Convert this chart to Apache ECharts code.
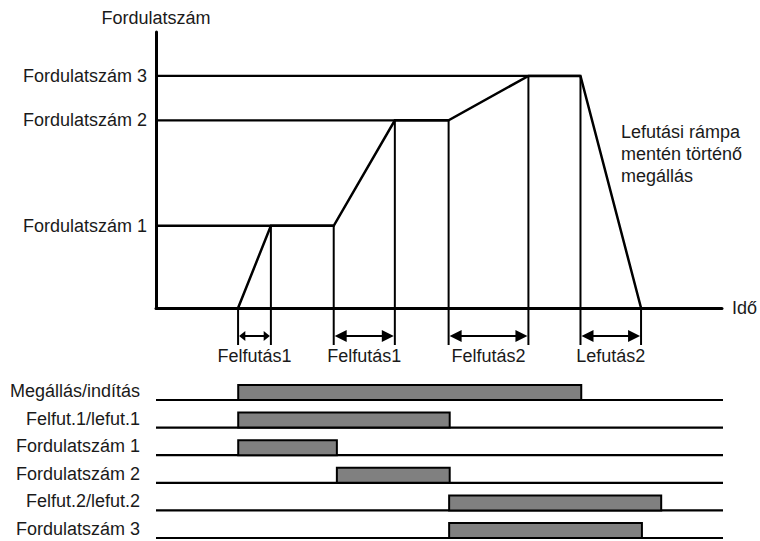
<!DOCTYPE html>
<html><head><meta charset="utf-8">
<script src="https://cdn.jsdelivr.net/npm/echarts@6/dist/echarts.min.js"></script>
<style>html,body{margin:0;padding:0;background:#fff}#c{width:760px;height:541px}</style>
</head><body><div id="c"></div>
<script>
// ---- data ----
const speedNames = ['Fordulatszám 1', 'Fordulatszám 2', 'Fordulatszám 3'];
const speedLevels = [29.8, 68.0, 84.1];
const levelEnds = [31.4, 51.7, 75.0];
const profileTime = [14.5, 20.3, 31.4, 42.2, 51.7, 65.8, 75.0, 85.7];
const profileSpeed = [0, 29.8, 29.8, 68.0, 68.0, 84.1, 84.1, 0];
const rampNames = ['Felfutás1', 'Felfutás1', 'Felfutás2', 'Lefutás2'];
const rampStart = [14.5, 31.4, 51.7, 75.0];
const rampEnd = [20.3, 42.2, 65.8, 85.7];
const signalNames = ['Megállás/indítás', 'Felfut.1/lefut.1', 'Fordulatszám 1', 'Fordulatszám 2', 'Felfut.2/lefut.2', 'Fordulatszám 3'];
const signalStart = [14.5, 14.5, 14.5, 31.9, 51.7, 51.7];
const signalEnd = [75.0, 51.8, 31.9, 51.8, 89.1, 85.7];
const noteLines = ['Lefutási rámpa', 'mentén történő', 'megállás'];
const timeMin = 0, timeMax = 100, speedMin = 0, speedMax = 100;

// ---- chart ----
const FONT = 'Liberation Sans, Arial, sans-serif';
const FS = 18;
const TXT = '#1a1a1a';
const rampMid = rampStart.map((s, i) => (s + rampEnd[i]) / 2);
const nearest = (arr, v) => { let bi = 0; arr.forEach((a, i) => { if (Math.abs(a - v) < Math.abs(arr[bi] - v)) bi = i; }); return bi; };
const rowIdx = signalNames.map((_, i) => i + 1);

const chart = echarts.init(document.getElementById('c'), null, { renderer: 'svg' });
chart.setOption({
  animation: false,
  backgroundColor: '#fff',
  textStyle: { fontFamily: FONT },
  grid: [
    { left: 156, right: 37, top: 32, bottom: 233 },
    { left: 156, right: 37, top: 372.4, bottom: 3 }
  ],
  xAxis: [
    {
      gridIndex: 0, type: 'value', min: timeMin, max: timeMax,
      axisLine: { show: true, onZero: false, lineStyle: { color: '#000', width: 3 } },
      axisTick: { show: false }, splitLine: { show: false },
      axisLabel: { customValues: rampMid, margin: 39, color: TXT, fontSize: FS, fontFamily: FONT,
        formatter: v => rampNames[nearest(rampMid, v)] },
      name: 'Idő', nameLocation: 'end', nameGap: 10,
      nameTextStyle: { color: TXT, fontSize: FS, fontFamily: FONT }
    },
    {
      gridIndex: 1, type: 'value', min: timeMin, max: timeMax, show: false
    }
  ],
  yAxis: [
    {
      gridIndex: 0, type: 'value', min: speedMin, max: speedMax,
      axisLine: { show: true, onZero: false, lineStyle: { color: '#000', width: 3 } },
      axisTick: { show: false }, splitLine: { show: false },
      axisLabel: { customValues: speedLevels, margin: 9, color: TXT, fontSize: FS, fontFamily: FONT,
        formatter: v => speedNames[nearest(speedLevels, v)] },
      name: 'Fordulatszám', nameLocation: 'end', nameGap: 5,
      nameTextStyle: { color: TXT, fontSize: FS, fontFamily: FONT, align: 'center' }
    },
    {
      gridIndex: 1, type: 'value', min: 0, max: signalNames.length, inverse: true,
      axisLine: { show: false }, axisTick: { show: false }, splitLine: { show: false },
      axisLabel: { customValues: rowIdx, margin: 16, color: TXT, fontSize: FS, fontFamily: FONT,
        verticalAlign: 'bottom', formatter: v => signalNames[Math.round(v) - 1] || '' }
    }
  ],
  graphic: [{
    type: 'text', left: 621, top: 121,
    style: { text: noteLines.join('\n'), fill: TXT, font: FS + 'px ' + FONT, lineHeight: 22 }
  }],
  series: [
    { // horizontal level lines
      type: 'custom', xAxisIndex: 0, yAxisIndex: 0, clip: false,
      data: speedLevels.map((s, i) => [levelEnds[i], s]),
      renderItem: (p, api) => {
        const a = api.coord([timeMin, api.value(1)]);
        const b = api.coord([api.value(0), api.value(1)]);
        return { type: 'line', shape: { x1: a[0], y1: a[1], x2: b[0], y2: b[1] }, style: { stroke: '#000', lineWidth: 2.3 } };
      }
    },
    { // vertical drop lines
      type: 'custom', xAxisIndex: 0, yAxisIndex: 0, clip: false,
      data: profileTime.map((t, i) => [t, profileSpeed[i]]),
      renderItem: (p, api) => {
        const a = api.coord([api.value(0), api.value(1)]);
        const b = api.coord([api.value(0), speedMin]);
        return { type: 'line', shape: { x1: a[0], y1: a[1], x2: b[0], y2: b[1] + 37 }, style: { stroke: '#000', lineWidth: 2 } };
      }
    },
    { // ramp arrows
      type: 'custom', xAxisIndex: 0, yAxisIndex: 0, clip: false,
      data: rampStart.map((s, i) => [s, rampEnd[i]]),
      renderItem: (p, api) => {
        const a = api.coord([api.value(0), speedMin]);
        const b = api.coord([api.value(1), speedMin]);
        const y = a[1] + 28;
        const span = b[0] - a[0];
        const hl = Math.min(13, span * 0.22);
        const hh = span < 40 ? 5 : 6;
        return { type: 'group', children: [
          { type: 'line', shape: { x1: a[0] + hl - 1, y1: y, x2: b[0] - hl + 1, y2: y }, style: { stroke: '#000', lineWidth: 2 } },
          { type: 'polygon', shape: { points: [[a[0] + 1, y], [a[0] + hl, y - hh], [a[0] + hl, y + hh]] }, style: { fill: '#000' } },
          { type: 'polygon', shape: { points: [[b[0] - 1, y], [b[0] - hl, y - hh], [b[0] - hl, y + hh]] }, style: { fill: '#000' } }
        ] };
      }
    },
    { // speed profile
      type: 'line', xAxisIndex: 0, yAxisIndex: 0, symbol: 'none', z: 5,
      data: profileTime.map((t, i) => [t, profileSpeed[i]]),
      lineStyle: { color: '#000', width: 2.5, join: 'miter' }
    },
    { // signal baselines
      type: 'custom', xAxisIndex: 1, yAxisIndex: 1, clip: false,
      data: rowIdx.map(r => [r]),
      renderItem: (p, api) => {
        const a = api.coord([timeMin, api.value(0)]);
        const b = api.coord([timeMax, api.value(0)]);
        return { type: 'line', shape: { x1: a[0], y1: a[1], x2: b[0], y2: b[1] }, style: { stroke: '#000', lineWidth: 2.2 } };
      }
    },
    { // signal bars
      type: 'custom', xAxisIndex: 1, yAxisIndex: 1, clip: false, z: 3,
      data: signalStart.map((s, i) => [i + 1, s, signalEnd[i]]),
      renderItem: (p, api) => {
        const a = api.coord([api.value(1), api.value(0)]);
        const b = api.coord([api.value(2), api.value(0)]);
        return { type: 'rect', shape: { x: a[0], y: a[1] - 15, width: b[0] - a[0], height: 15 },
          style: { fill: '#808080', stroke: '#000', lineWidth: 2 } };
      }
    }
  ]
});
</script></body></html>
